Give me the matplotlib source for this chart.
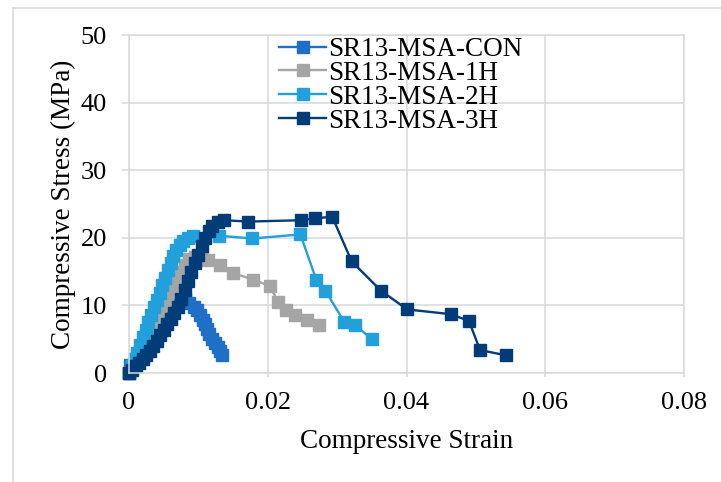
import matplotlib.pyplot as plt
from matplotlib.lines import Line2D

# strain / stress readings for each specimen
con_strain = [0, 0.0002, 0.0008, 0.0015, 0.002, 0.0026, 0.0032, 0.0038, 0.0044, 0.005,
              0.0056, 0.0062, 0.0068, 0.0075, 0.0081, 0.0087, 0.0093, 0.0098, 0.0102,
              0.0106, 0.0109, 0.0112, 0.0116, 0.012, 0.0124, 0.0128, 0.0131, 0.0134]
con_stress = [0, 1.2, 2.0, 3.0, 3.8, 4.8, 5.8, 6.8, 7.8, 8.7,
              9.5, 10.2, 10.7, 11.0, 10.9, 10.4, 9.8, 9.3, 8.6,
              7.9, 7.2, 6.5, 5.8, 5.1, 4.4, 3.8, 3.2, 2.6]

h1_strain = [0, 0.0005, 0.001, 0.0015, 0.002, 0.0025, 0.003, 0.0035, 0.004, 0.0045,
             0.005, 0.0055, 0.006, 0.0065, 0.007, 0.0075, 0.008, 0.0087, 0.0095, 0.0105,
             0.0114, 0.0131, 0.015, 0.0179, 0.0203, 0.0215, 0.0227, 0.0239, 0.0256, 0.0274]
h1_stress = [0, 1.0, 2.0, 3.0, 4.0, 5.0, 6.0, 7.0, 8.0, 9.0,
             10.0, 11.0, 12.0, 13.0, 14.0, 15.0, 16.0, 16.8, 17.1, 17.0,
             16.7, 16.0, 14.8, 13.8, 12.9, 10.5, 9.3, 8.6, 7.8, 7.1]

h2_strain = [0, 0.0004, 0.0008, 0.0012, 0.0016, 0.002, 0.0024, 0.0028, 0.0032, 0.0036,
             0.004, 0.0044, 0.0048, 0.0052, 0.0056, 0.006, 0.0064, 0.0068, 0.0073, 0.0078,
             0.0085, 0.0092, 0.013, 0.0178, 0.0247, 0.027, 0.0283, 0.031, 0.0326, 0.035]
h2_stress = [0, 1.0, 2.0, 3.0, 4.2, 5.3, 6.4, 7.5, 8.6, 9.7,
             10.8, 11.9, 13.0, 14.1, 15.2, 16.3, 17.3, 18.2, 19.0, 19.6,
             20.0, 20.2, 20.3, 19.9, 20.5, 13.8, 12.2, 7.6, 7.1, 5.0]

h3_strain = [0, 0.0005, 0.001, 0.0015, 0.002, 0.0025, 0.003, 0.0035, 0.004, 0.0045,
             0.005, 0.0055, 0.006, 0.0065, 0.007, 0.0075, 0.008, 0.0085, 0.009, 0.0095,
             0.010, 0.0105, 0.011, 0.0115, 0.012, 0.0128, 0.0137, 0.0172, 0.0248, 0.0268,
             0.0293, 0.0321, 0.0363, 0.0401, 0.0464, 0.049, 0.0506, 0.0544]
h3_stress = [0, 0.5, 1.0, 1.5, 2.0, 2.6, 3.3, 4.0, 4.8, 5.6,
             6.4, 7.2, 8.0, 8.9, 9.8, 11.0, 12.3, 13.6, 14.9, 16.2,
             17.5, 18.8, 20.0, 21.0, 21.8, 22.3, 22.6, 22.4, 22.6, 22.9,
             23.1, 16.5, 12.2, 9.4, 8.7, 7.7, 3.4, 2.6]

labels = ["SR13-MSA-CON", "SR13-MSA-1H", "SR13-MSA-2H", "SR13-MSA-3H"]
colors = ["#1F6FC6", "#A5A5A5", "#21A0DB", "#003C78"]

plt.rcParams['font.family'] = ['Liberation Serif', 'DejaVu Serif']

fig = plt.figure(figsize=(7.21, 4.82), dpi=100)
ax = fig.add_axes([129 / 721, 1 - 373 / 482, 555 / 721, 338 / 482])

series = [(con_strain, con_stress), (h1_strain, h1_stress),
          (h2_strain, h2_stress), (h3_strain, h3_stress)]
for (x, y), lab, c in zip(series, labels, colors):
    ax.plot(x, y, color=c, lw=1.7, marker='s', markersize=8, label=lab, clip_on=False)

ax.set_xlim(0, 0.08)
ax.set_ylim(0, 50)
ax.set_xticks([0, 0.02, 0.04, 0.06, 0.08])
ax.set_xticklabels(["0", "0.02", "0.04", "0.06", "0.08"])
ax.set_yticks([0, 10, 20, 30, 40, 50])

grid_col = "#D9D9D9"
ax.grid(True, color=grid_col, lw=1.1)
ax.set_axisbelow(True)
for s in ax.spines.values():
    s.set_color(grid_col)
    s.set_linewidth(1.1)
ax.tick_params(axis='y', length=5, color=grid_col, width=1.1, pad=11, labelsize=19)
ax.tick_params(axis='x', length=3, color=grid_col, width=1.1, pad=11, labelsize=19)

ax.set_xlabel("Compressive Strain", fontsize=19.5)
ax.xaxis.set_label_coords(0.5, -0.165)
ax.set_ylabel("Compressive Stress (MPa)", fontsize=19.5)
ax.yaxis.set_label_coords(-0.095, 0.5)

ax.legend(loc='upper left', bbox_to_anchor=(279 / 721, 1 - 37 / 482),
          bbox_transform=fig.transFigure, frameon=False, fontsize=19.5,
          handlelength=1.75, handletextpad=0.05, labelspacing=-0.04,
          borderpad=0, borderaxespad=0)

# outer chart border
fig.add_artist(Line2D([13 / 721, 13 / 721], [0, 1 - 8 / 482], color=grid_col, lw=1.2,
                      transform=fig.transFigure))
fig.add_artist(Line2D([13 / 721, 1], [1 - 8 / 482, 1 - 8 / 482], color=grid_col, lw=1.2,
                      transform=fig.transFigure))

fig.savefig("out.png", dpi=100)
